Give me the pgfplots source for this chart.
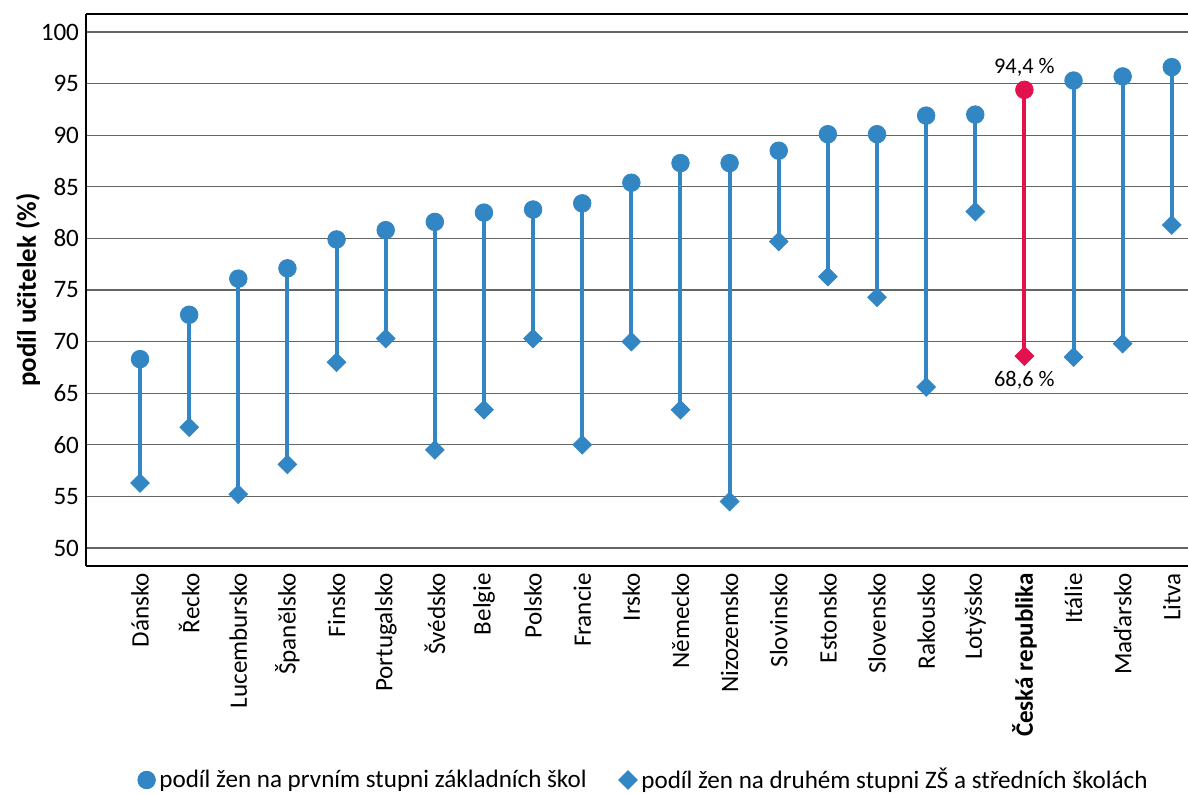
\documentclass[border=0pt]{standalone}
\usepackage{pgfplots}
\pgfplotsset{compat=1.18}
\usepackage{pgfplotstable}
\usepackage{fontspec}
\setmainfont{Carlito}

\definecolor{modra}{RGB}{50,134,196}
\definecolor{cervena}{RGB}{226,18,78}
\definecolor{mrizka}{RGB}{100,100,100}

% x = poradi zeme, lo = druhy stupen ZS a SS, hi = prvni stupen ZS
\pgfplotstableread{
x  lo   hi
0  56.3 68.3
1  61.7 72.6
2  55.2 76.1
3  58.1 77.1
4  68.0 79.9
5  70.3 80.8
6  59.5 81.6
7  63.4 82.5
8  70.3 82.8
9  60.0 83.4
10 70.0 85.4
11 63.4 87.3
12 54.5 87.3
13 79.7 88.5
14 76.3 90.1
15 74.3 90.1
16 65.6 91.9
17 82.6 92.0
19 68.5 95.3
20 69.8 95.7
21 81.3 96.6
}\zeme

\pgfplotstableread{
x  lo   hi
18 68.6 94.4
}\cesko

\begin{document}
\begin{tikzpicture}[font=\fontsize{12.6}{15}\selectfont]
\begin{axis}[
    name=ax,
    scale only axis,
    width=551bp, height=276bp,
    xmin=-1.1, xmax=21.33,
    ymin=48.25, ymax=101.75,
    axis x line*=box,
    axis y line*=left,
    axis line style={black, line width=1bp},
    major tick length=0pt,
    ytick={50,55,...,100},
    ymajorgrids,
    grid style={mrizka, line width=0.6bp},
    xtick={0,...,21},
    xticklabels={Dánsko, Řecko, Lucembursko, Španělsko, Finsko, Portugalsko,
        Švédsko, Belgie, Polsko, Francie, Irsko, Německo, Nizozemsko,
        Slovinsko, Estonsko, Slovensko, Rakousko, Lotyšsko,
        \textbf{Česká republika}, Itálie, Maďarsko, Litva},
    xticklabel style={rotate=90, anchor=east, font=\fontsize{12.6}{15}\selectfont},
    yticklabel style={font=\fontsize{12.6}{15}\selectfont},
    /pgf/number format/assume math mode=true,
    ylabel={\textbf{podíl učitelek (\%)}},
    every axis y label/.style={at={(axis description cs:-0.0526,0.5)},
        rotate=90, anchor=center, font=\fontsize{13.5}{16}\selectfont},
    legend columns=2,
    legend style={at={(axis description cs:0.507,-0.3877)}, anchor=center,
        draw=none, fill=none, font=\fontsize{12.6}{15}\selectfont,
        /tikz/every even column/.append style={column sep=14bp}},
]

% spojnice
\addplot[draw=none, mark=none, forget plot,
    error bars/.cd, y dir=plus, y explicit, error mark=none,
    error bar style={draw=modra, line width=2bp, solid}]
    table[x=x, y=lo, y error plus expr=\thisrow{hi}-\thisrow{lo}] {\zeme};
\addplot[draw=none, mark=none, forget plot,
    error bars/.cd, y dir=plus, y explicit, error mark=none,
    error bar style={draw=cervena, line width=2bp, solid}]
    table[x=x, y=lo, y error plus expr=\thisrow{hi}-\thisrow{lo}] {\cesko};

\addplot[only marks, mark=*, mark size=4.4bp, color=modra, mark options={draw=modra, fill=modra}]
    table[x=x, y=hi] {\zeme};
\addlegendentry{podíl žen na prvním stupni základních škol}
\addplot[only marks, mark=square*, mark size=3.3bp, color=modra, mark options={rotate=45, draw=modra, fill=modra}]
    table[x=x, y=lo] {\zeme};
\addlegendentry{podíl žen na druhém stupni ZŠ a středních školách}

\addplot[only marks, mark=*, mark size=4.4bp, color=cervena, forget plot, mark options={draw=cervena, fill=cervena}]
    table[x=x, y=hi] {\cesko};
\addplot[only marks, mark=square*, mark size=3.3bp, color=cervena, forget plot, mark options={rotate=45, draw=cervena, fill=cervena}]
    table[x=x, y=lo] {\cesko};

\node[font=\fontsize{11.2}{13}\selectfont, yshift=11.5bp] at (axis cs:18,94.4) {94,4 \%};
\node[font=\fontsize{11.2}{13}\selectfont, yshift=-12bp] at (axis cs:18,68.6) {68,6 \%};
\end{axis}
\pgfresetboundingbox
\useasboundingbox ([xshift=-43bp, yshift=-114bp]ax.south west) rectangle ([yshift=7bp]ax.north east);
\end{tikzpicture}
\end{document}
